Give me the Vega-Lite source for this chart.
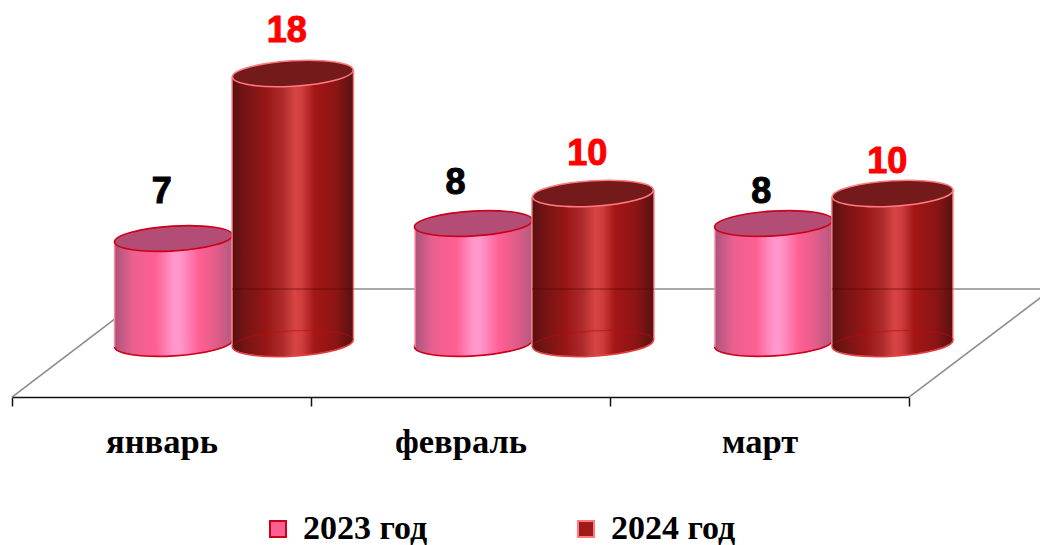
{"$schema":"https://vega.github.io/schema/vega-lite/v6.json","width":897,"height":397,"autosize":"none","padding":{"left":12,"top":0,"right":131,"bottom":148},"background":"white","config":{"view":{"stroke":null},"axis":{"grid":false}},"datasets":{"bars":[{"month":"январь","series":"2023 год","value":7,"xc":0.54,"lx":0.501,"ly":10.13},{"month":"январь","series":"2024 год","value":18,"xc":0.939,"lx":0.919,"ly":20.8},{"month":"февраль","series":"2023 год","value":8,"xc":1.543,"lx":1.483,"ly":10.67},{"month":"февраль","series":"2024 год","value":10,"xc":1.943,"lx":1.924,"ly":12.6},{"month":"март","series":"2023 год","value":8,"xc":2.547,"lx":2.506,"ly":10.13},{"month":"март","series":"2024 год","value":10,"xc":2.945,"lx":2.927,"ly":12.13}],"edges":[{"month":"январь","series":"2023 год","x":0.343,"top":6.767,"base":-0.233},{"month":"январь","series":"2023 год","x":0.736,"top":7.233,"base":0.233},{"month":"январь","series":"2024 год","x":0.736,"top":17.767,"base":-0.233},{"month":"январь","series":"2024 год","x":1.142,"top":18.233,"base":0.233},{"month":"февраль","series":"2023 год","x":1.348,"top":7.767,"base":-0.233},{"month":"февраль","series":"2023 год","x":1.739,"top":8.233,"base":0.233},{"month":"февраль","series":"2024 год","x":1.739,"top":9.767,"base":-0.233},{"month":"февраль","series":"2024 год","x":2.147,"top":10.233,"base":0.233},{"month":"март","series":"2023 год","x":2.351,"top":7.767,"base":-0.233},{"month":"март","series":"2023 год","x":2.742,"top":8.233,"base":0.233},{"month":"март","series":"2024 год","x":2.742,"top":9.767,"base":-0.233},{"month":"март","series":"2024 год","x":3.147,"top":10.233,"base":0.233}],"floor":[{"edge":"left","x":0,"y":-3.57},{"edge":"left","x":0.475,"y":3.63},{"edge":"back","x":0.475,"y":3.63},{"edge":"back","x":3.478,"y":3.63},{"edge":"right","x":3,"y":-3.57},{"edge":"right","x":3.478,"y":3.63}],"through":[{"x":0.736,"x2":1.142,"y":3.63},{"x":1.739,"x2":2.147,"y":3.63},{"x":2.742,"x2":3.147,"y":3.63}]},"layer":[{"data":{"name":"bars"},"mark":{"type":"bar","opacity":0},"encoding":{"x":{"field":"month","type":"nominal","sort":null,"title":null,"scale":{"paddingInner":0,"paddingOuter":0},"axis":{"orient":"bottom","tickBand":"extent","tickSize":9,"tickWidth":1.5,"tickColor":"#111","domainColor":"#111","domainWidth":1.5,"labelAngle":0,"labelFont":"Liberation Serif","labelFontWeight":"bold","labelFontSize":34.5,"labelColor":"#000","labelPadding":19}},"y":{"field":"value","type":"quantitative","axis":null,"scale":{"domain":[-3.567,22.9],"nice":false,"zero":false}}}},{"data":{"name":"floor"},"mark":{"type":"line","color":"#8c8c8c","strokeWidth":1.6,"clip":false},"encoding":{"x":{"field":"x","type":"quantitative","axis":null,"scale":{"domain":[0,3],"nice":false,"zero":false}},"y":{"field":"y","type":"quantitative","axis":null,"scale":{"domain":[-3.567,22.9],"nice":false,"zero":false}},"detail":{"field":"edge"}}},{"data":{"name":"bars"},"transform":[{"filter":"datum.series==='2023 год'"}],"layer":[{"mark":{"type":"point","filled":true,"opacity":1,"size":13924,"shape":"M0.998,-0.059C1.005,0.057,0.564,0.177,0.012,0.21C-0.539,0.242,-0.991,0.175,-0.998,0.059C-1.005,-0.057,-0.564,-0.177,-0.012,-0.21C0.539,-0.242,0.991,-0.175,0.998,-0.059Z","fill":{"gradient":"linear","x1":0,"y1":0,"x2":1,"y2":0,"stops":[{"offset":0,"color":"#a8557c"},{"offset":0.15,"color":"#e8608f"},{"offset":0.35,"color":"#ff5f93"},{"offset":0.5,"color":"#ff96cc"},{"offset":0.56,"color":"#ff96cc"},{"offset":0.72,"color":"#ff5f93"},{"offset":0.88,"color":"#dd5c88"},{"offset":1,"color":"#b35a80"}]},"stroke":"#cc0018","strokeWidth":1.6},"encoding":{"x":{"field":"xc","type":"quantitative","axis":null,"scale":{"domain":[0,3],"nice":false,"zero":false}},"y":{"datum":0,"type":"quantitative","axis":null,"scale":{"domain":[-3.567,22.9],"nice":false,"zero":false}}}}]},{"data":{"name":"edges"},"transform":[{"filter":"datum.series==='2023 год'"}],"layer":[{"mark":{"type":"area","line":false,"fill":{"gradient":"linear","x1":0,"y1":0,"x2":1,"y2":0,"stops":[{"offset":0,"color":"#a8557c"},{"offset":0.15,"color":"#e8608f"},{"offset":0.35,"color":"#ff5f93"},{"offset":0.5,"color":"#ff96cc"},{"offset":0.56,"color":"#ff96cc"},{"offset":0.72,"color":"#ff5f93"},{"offset":0.88,"color":"#dd5c88"},{"offset":1,"color":"#b35a80"}]}},"encoding":{"x":{"field":"x","type":"quantitative","axis":null,"scale":{"domain":[0,3],"nice":false,"zero":false}},"y":{"field":"top","type":"quantitative","axis":null,"scale":{"domain":[-3.567,22.9],"nice":false,"zero":false}},"y2":{"field":"base"},"detail":{"field":"month"}}},{"mark":{"type":"rule","color":"#ff8a9a","strokeWidth":1.4},"encoding":{"x":{"field":"x","type":"quantitative","axis":null,"scale":{"domain":[0,3],"nice":false,"zero":false}},"y":{"field":"top","type":"quantitative","axis":null,"scale":{"domain":[-3.567,22.9],"nice":false,"zero":false}},"y2":{"field":"base"}}}]},{"data":{"name":"bars"},"transform":[{"filter":"datum.series==='2023 год'"}],"layer":[{"mark":{"type":"point","filled":true,"opacity":1,"size":13924,"shape":"M0.998,-0.059C1.005,0.057,0.564,0.177,0.012,0.21C-0.539,0.242,-0.991,0.175,-0.998,0.059C-1.005,-0.057,-0.564,-0.177,-0.012,-0.21C0.539,-0.242,0.991,-0.175,0.998,-0.059Z","fill":"#b34d76","stroke":"#cc0018","strokeWidth":1.6},"encoding":{"x":{"field":"xc","type":"quantitative","axis":null,"scale":{"domain":[0,3],"nice":false,"zero":false}},"y":{"field":"value","type":"quantitative","axis":null,"scale":{"domain":[-3.567,22.9],"nice":false,"zero":false}}}},{"mark":{"type":"text","font":"Liberation Sans","fontWeight":"bold","fontSize":36,"color":"#000","stroke":"#000","strokeWidth":1,"baseline":"middle"},"encoding":{"x":{"field":"lx","type":"quantitative","axis":null,"scale":{"domain":[0,3],"nice":false,"zero":false}},"y":{"field":"ly","type":"quantitative","axis":null,"scale":{"domain":[-3.567,22.9],"nice":false,"zero":false}},"text":{"field":"value","type":"quantitative"}}}]},{"data":{"name":"bars"},"transform":[{"filter":"datum.series==='2024 год'"}],"layer":[{"mark":{"type":"point","filled":true,"opacity":1,"size":14641,"shape":"M0.998,-0.059C1.005,0.057,0.564,0.177,0.012,0.21C-0.539,0.242,-0.991,0.175,-0.998,0.059C-1.005,-0.057,-0.564,-0.177,-0.012,-0.21C0.539,-0.242,0.991,-0.175,0.998,-0.059Z","fill":{"gradient":"linear","x1":0,"y1":0,"x2":1,"y2":0,"stops":[{"offset":0,"color":"#581010"},{"offset":0.1,"color":"#741414"},{"offset":0.28,"color":"#981616"},{"offset":0.42,"color":"#b02c2c"},{"offset":0.52,"color":"#d84444"},{"offset":0.58,"color":"#cc3c3c"},{"offset":0.68,"color":"#a41616"},{"offset":0.86,"color":"#8c1414"},{"offset":1,"color":"#561212"}]},"stroke":"#ff7a80","strokeWidth":1.6},"encoding":{"x":{"field":"xc","type":"quantitative","axis":null,"scale":{"domain":[0,3],"nice":false,"zero":false}},"y":{"datum":0,"type":"quantitative","axis":null,"scale":{"domain":[-3.567,22.9],"nice":false,"zero":false}}}}]},{"data":{"name":"edges"},"transform":[{"filter":"datum.series==='2024 год'"}],"layer":[{"mark":{"type":"area","line":false,"fill":{"gradient":"linear","x1":0,"y1":0,"x2":1,"y2":0,"stops":[{"offset":0,"color":"#581010"},{"offset":0.1,"color":"#741414"},{"offset":0.28,"color":"#981616"},{"offset":0.42,"color":"#b02c2c"},{"offset":0.52,"color":"#d84444"},{"offset":0.58,"color":"#cc3c3c"},{"offset":0.68,"color":"#a41616"},{"offset":0.86,"color":"#8c1414"},{"offset":1,"color":"#561212"}]}},"encoding":{"x":{"field":"x","type":"quantitative","axis":null,"scale":{"domain":[0,3],"nice":false,"zero":false}},"y":{"field":"top","type":"quantitative","axis":null,"scale":{"domain":[-3.567,22.9],"nice":false,"zero":false}},"y2":{"field":"base"},"detail":{"field":"month"}}},{"mark":{"type":"rule","color":"#ff7a80","strokeWidth":1.4},"encoding":{"x":{"field":"x","type":"quantitative","axis":null,"scale":{"domain":[0,3],"nice":false,"zero":false}},"y":{"field":"top","type":"quantitative","axis":null,"scale":{"domain":[-3.567,22.9],"nice":false,"zero":false}},"y2":{"field":"base"}}}]},{"data":{"name":"through"},"mark":{"type":"rule","color":"#500000","opacity":0.4,"strokeWidth":1.5},"encoding":{"x":{"field":"x","type":"quantitative","axis":null,"scale":{"domain":[0,3],"nice":false,"zero":false}},"x2":{"field":"x2"},"y":{"field":"y","type":"quantitative","axis":null,"scale":{"domain":[-3.567,22.9],"nice":false,"zero":false}}}},{"data":{"name":"bars"},"transform":[{"filter":"datum.series==='2024 год'"}],"layer":[{"mark":{"type":"point","filled":false,"opacity":0.55,"size":14641,"shape":"M0.998,-0.059C1.005,0.057,0.564,0.177,0.012,0.21C-0.539,0.242,-0.991,0.175,-0.998,0.059C-1.005,-0.057,-0.564,-0.177,-0.012,-0.21C0.539,-0.242,0.991,-0.175,0.998,-0.059Z","stroke":"#c80808","strokeWidth":1.2},"encoding":{"x":{"field":"xc","type":"quantitative","axis":null,"scale":{"domain":[0,3],"nice":false,"zero":false}},"y":{"datum":0,"type":"quantitative","axis":null,"scale":{"domain":[-3.567,22.9],"nice":false,"zero":false}}}},{"mark":{"type":"point","filled":true,"opacity":1,"size":14641,"shape":"M0.998,-0.059C1.005,0.057,0.564,0.177,0.012,0.21C-0.539,0.242,-0.991,0.175,-0.998,0.059C-1.005,-0.057,-0.564,-0.177,-0.012,-0.21C0.539,-0.242,0.991,-0.175,0.998,-0.059Z","fill":"#751a1a","stroke":"#ff7a80","strokeWidth":1.6},"encoding":{"x":{"field":"xc","type":"quantitative","axis":null,"scale":{"domain":[0,3],"nice":false,"zero":false}},"y":{"field":"value","type":"quantitative","axis":null,"scale":{"domain":[-3.567,22.9],"nice":false,"zero":false}}}},{"mark":{"type":"text","font":"Liberation Sans","fontWeight":"bold","fontSize":36,"color":"#ff0000","stroke":"#ff0000","strokeWidth":1,"baseline":"middle"},"encoding":{"x":{"field":"lx","type":"quantitative","axis":null,"scale":{"domain":[0,3],"nice":false,"zero":false}},"y":{"field":"ly","type":"quantitative","axis":null,"scale":{"domain":[-3.567,22.9],"nice":false,"zero":false}},"text":{"field":"value","type":"quantitative"}}}]},{"data":{"name":"bars"},"mark":{"type":"point","filled":true,"opacity":1,"size":0},"encoding":{"x":{"field":"xc","type":"quantitative","axis":null,"scale":{"domain":[0,3],"nice":false,"zero":false}},"y":{"field":"value","type":"quantitative","axis":null,"scale":{"domain":[-3.567,22.9],"nice":false,"zero":false}},"fill":{"field":"series","type":"nominal","scale":{"domain":["2023 год","2024 год"],"range":["#ff5f93","#a01a1a"]},"legend":{"title":null,"orient":"none","legendX":249,"legendY":512,"direction":"horizontal","columns":2,"columnPadding":141,"symbolType":"square","symbolSize":256,"symbolOpacity":1,"symbolStrokeWidth":2,"labelFont":"Liberation Serif","labelFontWeight":"bold","labelFontSize":34,"labelColor":"#000","labelOffset":8}},"stroke":{"field":"series","type":"nominal","scale":{"domain":["2023 год","2024 год"],"range":["#cc0018","#ff7a80"]}}}}],"resolve":{"scale":{"x":"independent","fill":"independent","stroke":"independent"},"axis":{"x":"independent"}}}
